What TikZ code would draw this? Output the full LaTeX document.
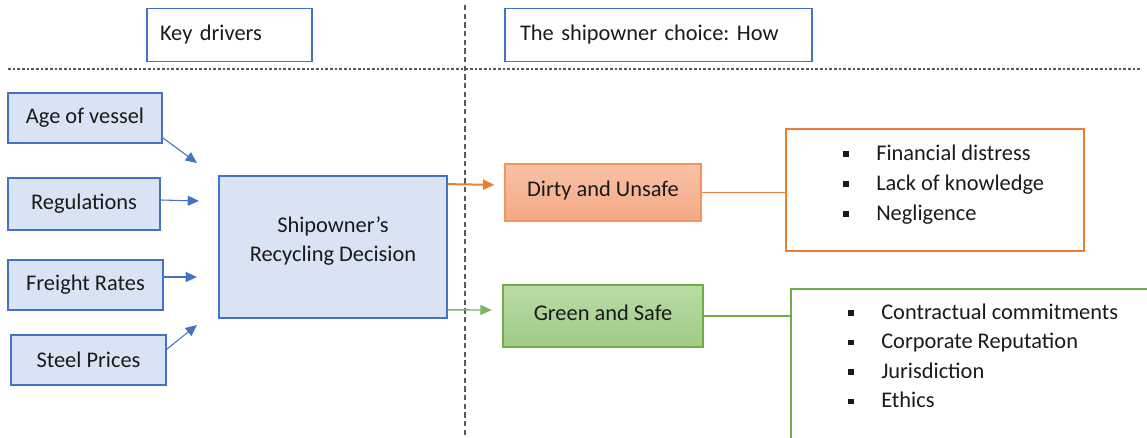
\documentclass[tikz,border=0pt]{standalone}
\usepackage{fontspec}
\setmainfont{Carlito}
\usetikzlibrary{arrows.meta,calc}
\definecolor{bblue}{HTML}{4472C4}
\definecolor{bfill}{HTML}{DAE3F3}
\definecolor{oline}{HTML}{ED7D31}
\definecolor{otop}{HTML}{F8C2A6}
\definecolor{obot}{HTML}{F4A886}
\definecolor{gline}{HTML}{70AD47}
\definecolor{gtop}{HTML}{B9DCA5}
\definecolor{gbot}{HTML}{A0CB86}
\definecolor{txt}{HTML}{1A1A1A}
\definecolor{dashcol}{HTML}{595959}
\newcommand{\blt}{\makebox[24.75pt][l]{\rule[2.5pt]{4.3pt}{4.3pt}}}
\frenchspacing
\begin{document}
\begin{tikzpicture}[x=0.75pt,y=-0.75pt,
  font=\fontsize{16.8}{20}\selectfont, text=txt,
  drv/.style={draw=bblue, fill=bfill, line width=1.3pt, inner sep=0pt, minimum height=37.5pt},
  hdr/.style={draw=bblue, line width=1.3pt, inner ysep=0pt, align=left, minimum height=39.75pt},
  barrow/.style={draw=bblue, line width=0.8pt, -{Triangle[length=8.5pt,width=7.5pt]}},
  seppath/.style={draw=dashcol, line width=0.8pt, dash pattern=on 2pt off 1.5pt},
  listtxt/.style={anchor=north west, align=left, inner sep=0pt}]
\clip (0,0) rectangle (1147,438);
% separators
\coordinate (vtop) at (465,5);
\coordinate (vbot) at (465,438);
\coordinate (hl) at (8,69);
\coordinate (hr) at (1140,69);
\draw[seppath, dash pattern=on 4pt off 2.5pt] (vtop) -- (vbot);
\draw[seppath] (hl) -- (hr);
% headers
\node[hdr, inner xsep=9.75pt, text width=104.25pt] (kd) at (229.5,35) {Key drivers};
\node[hdr, inner xsep=11.25pt, text width=207.75pt] (how) at (658.5,35) {The shipowner choice: How};
% drivers
\node[drv, minimum width=115.5pt] (age) at (85,118) {\raisebox{-1.5pt}{Age of vessel}};
\node[drv, minimum width=114pt, minimum height=39pt] (reg) at (84,204) {Regulations};
\node[drv, minimum width=116.25pt] (fr) at (85.5,285) {\raisebox{-1pt}{Freight Rates}};
\node[drv, minimum width=116.25pt] (st) at (88.5,360) {Steel Prices};
\node[drv, minimum width=171pt, minimum height=106.5pt] (main) at (333,247) {};
\node[align=center, inner sep=0pt] (mainlbl) at (333,241) {Shipowner’s\\[2pt]Recycling Decision};
% arrow targets
\coordinate (t1) at (197,163);
\coordinate (t2) at (199,201);
\coordinate (t3) at (197,277);
\coordinate (t4) at (197,325);
\draw[barrow] ($(age.south east)+(0,-6)$) -- (t1);
\draw[barrow] ($(reg.east)+(0,-4)$) -- (t2);
\draw[barrow] ($(fr.east)+(0,-8)$) -- (t3);
\draw[barrow] ($(st.north east)+(0,15)$) -- (t4);
% outcomes
\node[draw=oline!80, line width=0.9pt, top color=otop, bottom color=obot, minimum width=147pt, minimum height=42.75pt] (dirty) at (603,192.5) {\raisebox{5pt}{Dirty and Unsafe}};
\node[draw=gline, line width=0.9pt, top color=gtop, bottom color=gbot, minimum width=150pt, minimum height=46.5pt] (green) at (603,316) {\raisebox{5pt}{Green and Safe}};
\draw[draw=oline, line width=1.5pt, -{Triangle[length=8.5pt,width=7.5pt]}, shorten >=7.5pt] ($(main.north east)+(0,9)$) -- ($(dirty.west)+(0,-7.5)$);
\draw[draw=gline!90, line width=1pt, -{Triangle[length=8.5pt,width=7.5pt]}, shorten >=8pt] ($(main.south east)+(0,-9)$) -- ($(green.west)+(0,-6)$);
% lists
\node[draw=oline, line width=1.5pt, minimum width=223.5pt, minimum height=91.5pt] (obox) at (935,190) {};
\node[draw=gline, line width=1.5pt, anchor=north west, minimum width=300pt, minimum height=150pt] (gbox) at (790,288) {};
\draw[draw=oline, line width=0.8pt] (dirty.east) -- (dirty.east -| obox.west);
\draw[draw=gline, line width=0.8pt] (green.east) -- (green.east -| gbox.west);
\node[listtxt, font=\fontsize{16.8}{22.5}\selectfont] (olist) at (843,144.5) {\blt Financial distress\\ \blt Lack of knowledge\\ \blt Negligence};
\node[listtxt, font=\fontsize{16.8}{22.1}\selectfont] (glist) at (848,303.5) {\blt Contractual commitments\\ \blt Corporate Reputation\\ \blt Jurisdiction\\ \blt Ethics};
\end{tikzpicture}
\end{document}
